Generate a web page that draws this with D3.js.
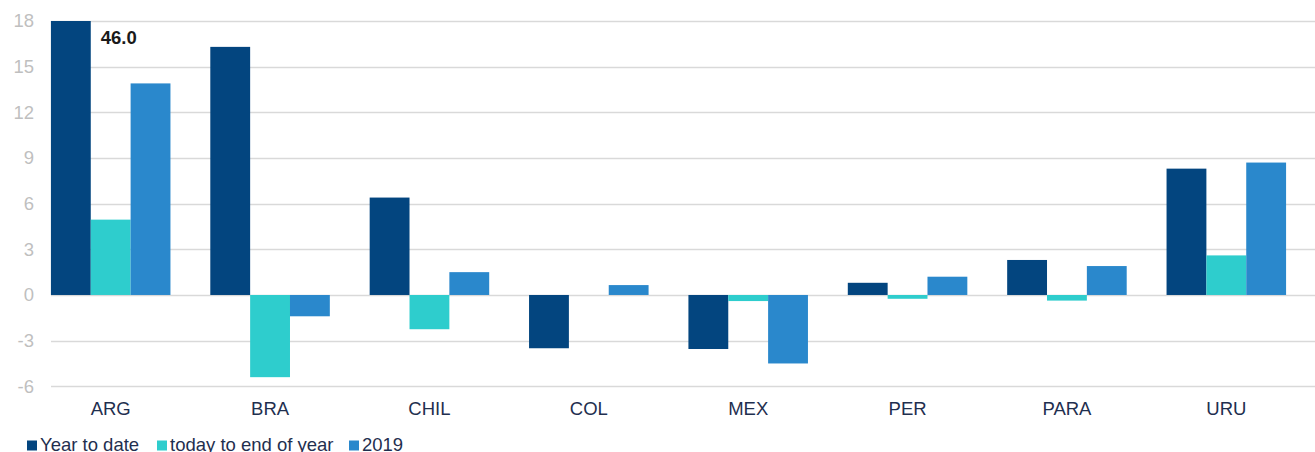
<!DOCTYPE html>
<meta charset="utf-8">
<script src="https://d3js.org/d3.v7.min.js"></script>
<style>
  body { margin: 0; background: #fff; }
  text { font-family: "Liberation Sans", Arial, sans-serif; }
</style>
<div id="chart"></div>
<script>
// data
var countries = ["ARG", "BRA", "CHIL", "COL", "MEX", "PER", "PARA", "URU"];
var seriesNames = ["Year to date", "today to end of year", "2019"];
var yearToDate = [46.0, 16.3, 6.4, -3.5, -3.55, 0.8, 2.3, 8.3];
var todayToEnd = [4.95, -5.4, -2.25, 0, -0.4, -0.25, -0.37, 2.6];
var y2019 = [13.9, -1.4, 1.5, 0.65, -4.5, 1.2, 1.9, 8.7];
var yTicks = [-6, -3, 0, 3, 6, 9, 12, 15, 18];
var colors = ["#03457f", "#2ecdcd", "#2a88cc"];

var width = 1315, height = 452;
var svg = d3.select("#chart").append("svg")
  .attr("width", width)
  .attr("height", height);

// x scales
var x0 = d3.scaleBand()
  .domain(countries)
  .range([31, 1306])
  .paddingInner(0.25)
  .paddingOuter(0.125);
var x1 = d3.scaleBand()
  .domain(seriesNames)
  .range([0, x0.bandwidth()]);

// y scale (clamped: ARG year to date runs off the top)
var y = d3.scaleLinear()
  .domain([-6, 18])
  .range([386.3, 21])
  .clamp(true);

// gridlines
svg.append("g")
  .selectAll("line")
  .data(yTicks)
  .enter()
  .append("line")
    .attr("x1", 51)
    .attr("x2", width)
    .attr("y1", function(d) { return Math.round(y(d)) + 0.5; })
    .attr("y2", function(d) { return Math.round(y(d)) + 0.5; })
    .attr("stroke", "#d9d9d9")
    .attr("stroke-width", 1.3);

// y axis labels (plain hyphen for negatives, as in the original)
var yAxis = svg.append("g")
  .attr("transform", "translate(34,0)")
  .call(d3.axisLeft(y).tickValues(yTicks).tickSize(0).tickPadding(0)
    .tickFormat(function(d) { return String(d); }));
yAxis.select(".domain").remove();
yAxis.selectAll("text")
  .style("font-size", "18.5px")
  .style("font-family", "'Liberation Sans', Arial, sans-serif")
  .attr("fill", "#bfbfbf");

// bars
var rows = countries.map(function(c, i) {
  return { country: c, values: [yearToDate[i], todayToEnd[i], y2019[i]] };
});

var groups = svg.append("g")
  .selectAll("g")
  .data(rows)
  .enter()
  .append("g")
    .attr("transform", function(d) { return "translate(" + x0(d.country) + ",0)"; });

groups.selectAll("rect")
  .data(function(d) {
    return d.values.map(function(v, j) { return { name: seriesNames[j], value: v, idx: j }; });
  })
  .enter()
  .append("rect")
    .attr("x", function(d) { return x1(d.name); })
    .attr("y", function(d) { return y(Math.max(0, d.value)); })
    .attr("width", x1.bandwidth())
    .attr("height", function(d) { return Math.abs(y(d.value) - y(0)); })
    .attr("fill", function(d) { return colors[d.idx]; });

// label for the clipped bar
svg.append("text")
  .attr("x", x0("ARG") + x1.bandwidth() + 10)
  .attr("y", 43.5)
  .style("font-size", "18.5px")
  .style("font-weight", "bold")
  .attr("fill", "#1a1a1a")
  .text(yearToDate[0].toFixed(1));

// category labels
var xAxis = svg.append("g")
  .attr("transform", "translate(0,402)")
  .call(d3.axisBottom(x0).tickSize(0).tickPadding(0));
xAxis.select(".domain").remove();
xAxis.selectAll("text")
  .style("font-size", "18.5px")
  .style("font-family", "'Liberation Sans', Arial, sans-serif")
  .attr("fill", "#1f2f4f");

// legend
var legendX = [27, 157, 349];
var legend = svg.append("g")
  .selectAll("g")
  .data(seriesNames)
  .enter()
  .append("g")
    .attr("transform", function(d, i) { return "translate(" + legendX[i] + ",0)"; });
legend.append("rect")
  .attr("y", 440.5)
  .attr("width", 10)
  .attr("height", 10)
  .attr("fill", function(d, i) { return colors[i]; });
legend.append("text")
  .attr("x", 13)
  .attr("y", 451)
  .style("font-size", "18.5px")
  .attr("fill", "#1f2f4f")
  .text(function(d) { return d; });
</script>
